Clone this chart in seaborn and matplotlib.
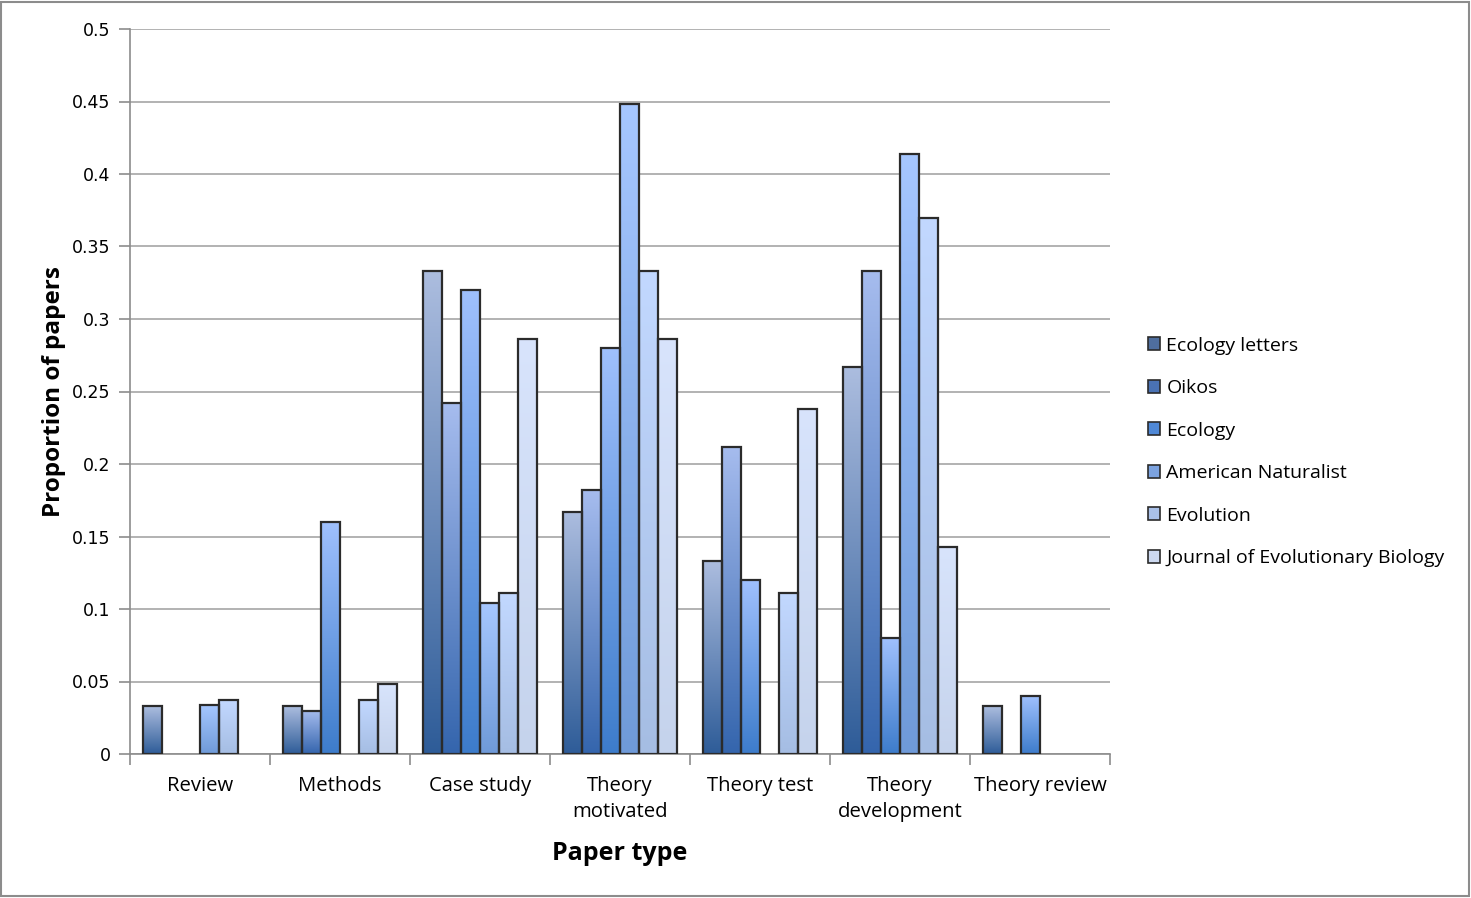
import numpy as np
import pandas as pd
import matplotlib
matplotlib.use("Agg")
import matplotlib.pyplot as plt
import seaborn as sns
from matplotlib.colors import LinearSegmentedColormap
from matplotlib.patches import Rectangle

# data
paper_types = ["Review", "Methods", "Case study", "Theory\nmotivated",
               "Theory test", "Theory\ndevelopment", "Theory review"]
journals = ["Ecology letters", "Oikos", "Ecology", "American Naturalist",
            "Evolution", "Journal of Evolutionary Biology"]

ecology_letters = [0.033, 0.033, 0.333, 0.167, 0.133, 0.267, 0.033]
oikos = [0.0, 0.030, 0.242, 0.182, 0.212, 0.333, 0.0]
ecology = [0.0, 0.160, 0.320, 0.280, 0.120, 0.080, 0.040]
american_naturalist = [0.034, 0.0, 0.104, 0.448, 0.0, 0.414, 0.0]
evolution = [0.037, 0.037, 0.111, 0.333, 0.111, 0.370, 0.0]
jeb = [0.0, 0.048, 0.286, 0.286, 0.238, 0.143, 0.0]

# bottom / top colours of each gradient
bottom_cols = ["#2e5c98", "#3465ad", "#3d7ccb", "#6f9ad8", "#a5bde3", "#c5d3ec"]
top_cols = ["#acbddf", "#a6bcee", "#9fc0fd", "#a6c7ff", "#c2d8ff", "#d8e4fc"]
legend_cols = ["#4f6e9e", "#4a72b4", "#4f88d6", "#7ca3e0", "#a9c0e8", "#cdd9f0"]

series = [ecology_letters, oikos, ecology, american_naturalist, evolution, jeb]
rows = []
for j, vals in zip(journals, series):
    for p, v in zip(paper_types, vals):
        rows.append({"type": p, "journal": j, "prop": v})
df = pd.DataFrame(rows)

sns.set_style("white")
plt.rcParams["font.family"] = ["Open Sans", "DejaVu Sans"]
plt.rcParams["text.color"] = "black"
plt.rcParams["xtick.color"] = "black"
plt.rcParams["ytick.color"] = "black"
plt.rcParams["axes.labelcolor"] = "black"

fig = plt.figure(figsize=(14.71, 8.98), dpi=100)
ax = fig.add_axes([130 / 1471, 1 - 754 / 898, 980 / 1471, 725 / 898])

sns.barplot(data=df, x="type", y="prop", hue="journal", order=paper_types,
            hue_order=journals, width=0.814, dodge=True, legend=False,
            palette=top_cols, edgecolor="#2b2b2b", linewidth=1.6, ax=ax,
            zorder=3)

# gradient fill inside each bar
grad = np.linspace(0, 1, 256).reshape(-1, 1)
for k, cont in enumerate(ax.containers):
    cmap = LinearSegmentedColormap.from_list("g%d" % k, [bottom_cols[k], top_cols[k]])
    for bar in cont:
        h = bar.get_height()
        if h <= 0:
            bar.set_visible(False)
            continue
        x0 = bar.get_x()
        w = bar.get_width()
        im = ax.imshow(grad, cmap=cmap, origin="lower", aspect="auto",
                       extent=[x0, x0 + w, 0, h], zorder=2.5)
        im.set_clip_path(bar)
        bar.set_facecolor("none")

ax.set_xlim(-0.5, len(paper_types) - 0.5)
ax.set_ylim(0, 0.5)
ax.set_yticks(np.arange(0, 0.51, 0.05))
ax.set_yticklabels(["0", "0.05", "0.1", "0.15", "0.2", "0.25", "0.3",
                    "0.35", "0.4", "0.45", "0.5"],
                   fontfamily="DejaVu Sans", fontsize=12.5)
ax.yaxis.grid(True, color="#a6a6a6", linewidth=1.2, zorder=0)
ax.set_axisbelow(True)

# x tick marks at group boundaries, labels at centres
ax.set_xticks(np.arange(-0.5, len(paper_types), 1.0))
ax.set_xticklabels([])
ax.set_xticks(np.arange(len(paper_types)), minor=True)
ax.set_xticklabels(paper_types, minor=True, fontsize=14.6, linespacing=1.38)
ax.tick_params(axis="x", which="major", length=8, color="#8c8c8c", width=1.2,
               direction="out", bottom=True)
ax.tick_params(axis="x", which="minor", length=0, pad=16)
ax.tick_params(axis="y", length=8, color="#8c8c8c", width=1.2, left=True, pad=6)

for s in ["top", "right"]:
    ax.spines[s].set_visible(False)
for s in ["left", "bottom"]:
    ax.spines[s].set_color("#8c8c8c")
    ax.spines[s].set_linewidth(1.2)

ax.set_xlabel("Paper type", fontsize=18, fontweight="bold", labelpad=14)
ax.set_ylabel("Proportion of papers", fontsize=17.5, fontweight="bold", labelpad=4)

# legend
handles = []
for k in range(len(journals)):
    handles.append(Rectangle((0, 0), 1, 1, facecolor=legend_cols[k],
                             edgecolor="#2b2b2b", linewidth=1.2))
leg = fig.legend(handles, journals, loc="upper left",
                 bbox_to_anchor=(1140 / 1471, 1 - 329 / 898), frameon=False,
                 fontsize=14, handlelength=0.65, handleheight=0.65,
                 handletextpad=0.3, labelspacing=1.26, borderaxespad=0)

# outer frame
fig.patches.append(Rectangle((1 / 1471, 2 / 898), 1468 / 1471, 894 / 898,
                             transform=fig.transFigure, fill=False,
                             edgecolor="#8c8c8c", linewidth=1.5))

fig.savefig("out.png", dpi=100)
